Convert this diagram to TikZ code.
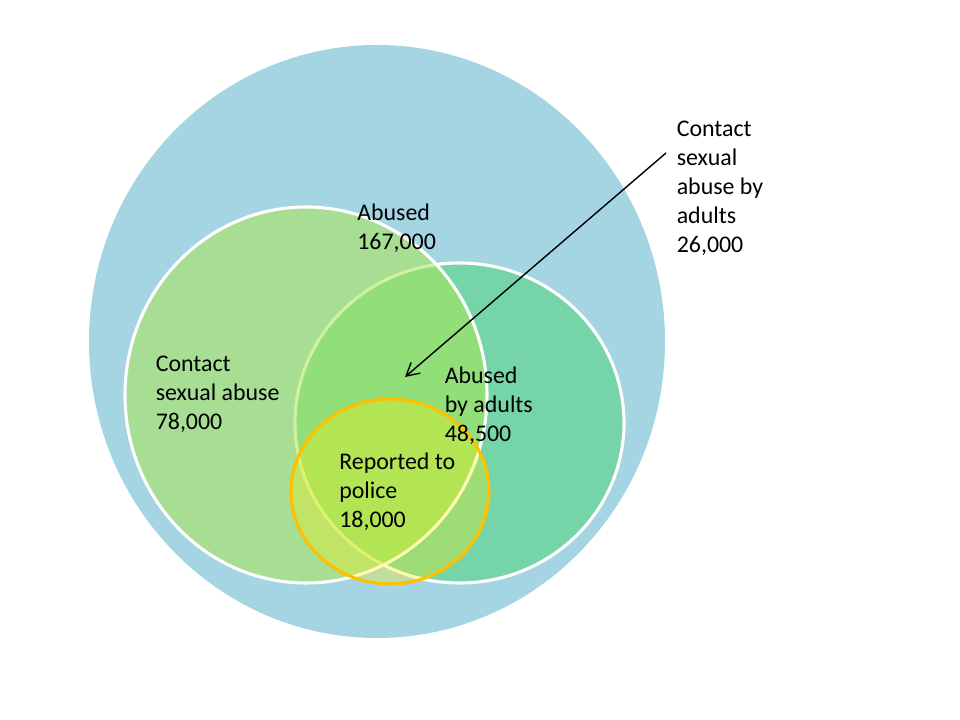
\documentclass[tikz,border=0pt]{standalone}
\usepackage{fontspec}
\setmainfont{Carlito}
\usetikzlibrary{arrows.meta,positioning}
\definecolor{outerblue}{RGB}{165,213,226}
\definecolor{adultteal}{RGB}{117,212,168}
\definecolor{contactgreen}{RGB}{170,231,84}
\definecolor{policegold}{RGB}{255,192,0}

\begin{document}
\begin{tikzpicture}[>={Straight Barb[length=9pt,width=10pt]},x=0.025cm,y=0.025cm,
  lbl/.style={align=left,anchor=north west,inner sep=0pt,font=\fontsize{17}{20.6}\selectfont},
  rim/.style={draw=white,line width=2.2pt}]
\useasboundingbox (0,0) rectangle (960,720);
% sets
\fill[outerblue] (377,378.5) ellipse (288 and 296.5);
\filldraw[rim,fill=adultteal] (459.5,297) ellipse (164.5 and 160);
\filldraw[rim,fill=contactgreen,fill opacity=0.55] (306,325) ellipse (181 and 188);
\filldraw[draw=policegold,line width=2.2pt,fill=yellow,fill opacity=0.3] (390,228.5) ellipse (99 and 92.5);
% labels
\node[lbl] (abused) at (357,516.5) {Abused\\167,000};
\node[lbl] (contact) at (155.5,364.5) {Contact\\sexual abuse\\78,000};
\node[lbl] (adults) at (444.5,353.5) {Abused\\by adults\\48,500};
\node[lbl] (police) at (339,267.5) {Reported to\\police\\18,000};
\node[lbl] (contactadults) at (676.5,599) {Contact\\sexual\\abuse by\\adults\\26,000};
\coordinate (arrowfrom) at (666,567);
\coordinate (arrowto) at (405,343);
\draw[->,line width=1pt] (arrowfrom) -- (arrowto);
\end{tikzpicture}
\end{document}
